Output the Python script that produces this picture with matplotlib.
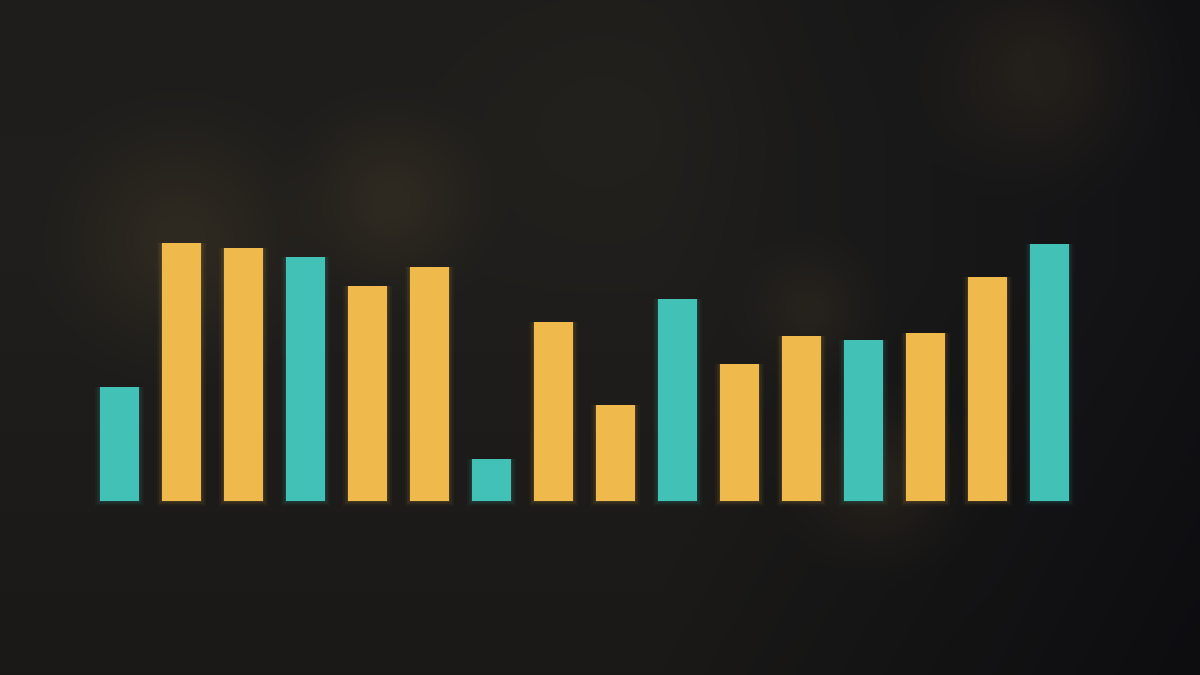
import matplotlib
matplotlib.use("Agg")
import matplotlib.pyplot as plt
import numpy as np

# bar heights (pixel-scale units, baseline = 0)
values = [114, 258, 253, 244, 215, 234, 42, 179, 96, 202, 137, 165, 161, 168, 224, 257]
kinds = ["t", "y", "y", "t", "y", "y", "t", "y", "y", "t", "y", "y", "t", "y", "y", "t"]
palette = {"t": "#42c2b6", "y": "#efb94c"}

W, H = 1200, 675

# soft dark background with warm bokeh blobs
yy, xx = np.mgrid[0:H, 0:W]
base = np.array([31, 30, 28], dtype=float)
img = np.ones((H, W, 3)) * base
# darker / bluish toward the right and bottom edges
fx = xx / W
img -= (np.clip(fx - 0.55, 0, 1) / 0.45)[..., None] * np.array([13, 12, 7])
img -= (np.clip(yy / H - 0.4, 0, 1) * 0.6)[..., None] * np.array([14, 14, 13])
img -= (np.clip(0.2 - yy / H, 0, 1) * 0.8)[..., None] * np.array([6, 6, 5])
blobs = [(180, 240, 130, 0.5), (390, 200, 100, 0.5), (1040, 70, 120, 0.45),
         (810, 310, 70, 0.35), (880, 480, 90, 0.45), (600, 120, 170, 0.12)]
warm = np.array([30, 22, 8], dtype=float)
for cx, cy, r, s in blobs:
    d = np.sqrt((xx - cx) ** 2 + (yy - cy) ** 2)
    m = np.clip(1.2 - d / r, 0, 1) ** 1.3 * s
    img += m[..., None] * warm
img = np.clip(img, 0, 255) / 255.0

fig = plt.figure(figsize=(12, 6.75), dpi=100)
bg = fig.add_axes([0, 0, 1, 1])
bg.imshow(img, aspect="auto", extent=(0, 1, 0, 1), zorder=0)
bg.axis("off")

ax = fig.add_axes([0, 0, 1, 1])
ax.patch.set_alpha(0)
x = np.arange(len(values))
colors = [palette[k] for k in kinds]

# faint glow behind each bar
for w, a in [(0.78, 0.04), (0.72, 0.07), (0.67, 0.10)]:
    ax.bar(x, np.array(values) + (w - 0.63) * 62 / 2, width=w, bottom=-(w - 0.63) * 62 / 2,
           color=colors, alpha=a, linewidth=0)
ax.bar(x, values, width=39 / 62, color=colors, linewidth=0)

ax.set_xlim(-119.5 / 62, (W - 119.5) / 62)
ax.set_ylim(-174, 501)
ax.axis("off")

fig.savefig("out.png", dpi=100)
